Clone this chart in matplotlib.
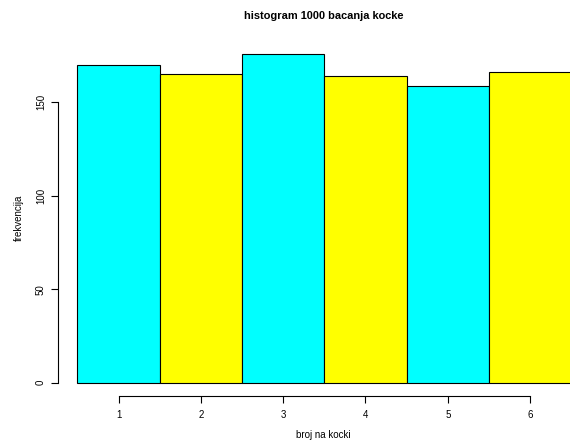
import numpy as np
import matplotlib.pyplot as plt

plt.rcParams['font.family'] = ['Liberation Sans', 'DejaVu Sans']

brojevi = [1, 2, 3, 4, 5, 6]
frekvencije = [170, 165, 176, 164, 159, 166]
boje = ["#00ffff", "#ffff00", "#00ffff", "#ffff00", "#00ffff", "#ffff00"]
yticks = [0, 50, 100, 150]

W, H = 570, 443
fig = plt.figure(figsize=(W / 100, H / 100), dpi=100)

# plot region in pixels (R style, right side cut off)
x0, x1 = 57.7, 591.0
y_top, y_bot = 40.6, 395.9
ax = fig.add_axes([x0 / W, 1 - y_bot / H, (x1 - x0) / W, (y_bot - y_top) / H])

ax.bar(brojevi, frekvencije, width=1.0, color=boje, edgecolor="black", linewidth=0.8)

ax.set_xlim(0.26, 6.74)
ax.set_ylim(-7.04, 183.04)

for s in ["top", "right"]:
    ax.spines[s].set_visible(False)
ax.spines["left"].set_bounds(0, 150)
ax.spines["bottom"].set_bounds(1, 6)
ax.spines["left"].set_linewidth(0.8)
ax.spines["bottom"].set_linewidth(0.8)

ax.set_xticks(brojevi)
ax.set_yticks(yticks)
ax.set_yticklabels([str(v) for v in yticks], rotation=90, va="center")
ax.tick_params(axis="both", direction="out", length=5, width=0.8, labelsize=7)
ax.tick_params(axis="x", pad=5)
ax.tick_params(axis="y", pad=3.5)

fig.text(323.5 / W, 1 - 16 / H, "histogram 1000 bacanja kocke",
         ha="center", va="center", fontsize=7.9, fontweight="bold")
fig.text(323.5 / W, 1 - 435 / H, "broj na kocki", ha="center", va="center", fontsize=7)
fig.text(18.5 / W, 1 - 218 / H, "frekvencija", ha="center", va="center",
         rotation=90, fontsize=7)

fig.savefig("out.png", dpi=100)
